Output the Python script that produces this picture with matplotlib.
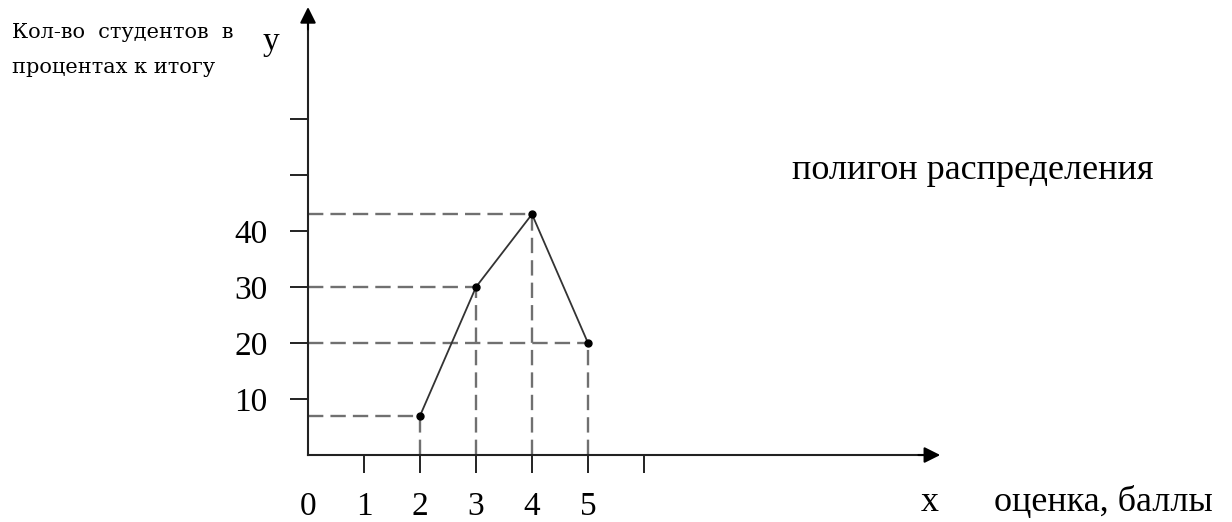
import matplotlib
matplotlib.use("Agg")
import matplotlib.pyplot as plt

# data
grades = [2, 3, 4, 5]
percent = [7, 30, 43, 20]
x_ticks = [0, 1, 2, 3, 4, 5, 6]
x_tick_labels = ["0", "1", "2", "3", "4", "5", ""]
y_ticks = [10, 20, 30, 40, 50, 60]
y_tick_labels = ["10", "20", "30", "40", "", ""]

plt.rcParams['font.family'] = ['Liberation Serif', 'DejaVu Serif']

fig = plt.figure(figsize=(12.32, 5.22), dpi=100)
ax = fig.add_axes([0, 0, 1, 1])
ax.set_xlim(-5.5, 16.5)
ax.set_ylim(-11.96, 81.25)

for s in ['top', 'right']:
    ax.spines[s].set_visible(False)
ax.spines['left'].set_position(('data', 0))
ax.spines['bottom'].set_position(('data', 0))
ax.spines['left'].set_bounds(0, 77)
ax.spines['bottom'].set_bounds(0, 11.0)
for s in ['left', 'bottom']:
    ax.spines[s].set_linewidth(1.5)
    ax.spines[s].set_color('#222222')

ax.annotate('', xy=(0, 80.0), xytext=(0, 76),
            arrowprops=dict(arrowstyle='-|>', color='black', lw=1.5, mutation_scale=24, shrinkA=0, shrinkB=0))
ax.annotate('', xy=(11.29, 0), xytext=(10.9, 0),
            arrowprops=dict(arrowstyle='-|>', color='black', lw=1.5, mutation_scale=24, shrinkA=0, shrinkB=0))

ax.set_xticks(x_ticks)
ax.set_xticklabels(x_tick_labels, fontsize=24)
ax.set_yticks(y_ticks)
ax.set_yticklabels(y_tick_labels, fontsize=24)
ax.tick_params(axis='x', direction='out', length=13, width=1.4, pad=13, colors='#222222', labelcolor='black')
ax.tick_params(axis='y', direction='out', length=13, width=1.4, pad=16, colors='#222222', labelcolor='black')
ax.xaxis.get_major_ticks()[0].tick1line.set_visible(False)

dash = dict(color='#707070', lw=1.7, linestyle=(0, (6.5, 3.0)))
for g, p in zip(grades, percent):
    ax.plot([0, g], [p, p], **dash)
    ax.plot([g, g], [0, p], **dash)

ax.plot(grades, percent, color='#333333', lw=1.3)
ax.plot(grades, percent, 'o', color='black', ms=5)

ax.text(-5.29, 74.5, "Кол-во  студентов  в", fontsize=15, family='DejaVu Serif',
        ha='left', va='baseline')
ax.text(-5.29, 68.2, "процентах к итогу", fontsize=15, family='DejaVu Serif',
        ha='left', va='baseline')
ax.text(-0.82, 72.3, "у", fontsize=24, ha='left', va='baseline')
ax.text(8.64, 49.3, "полигон распределения", fontsize=26, ha='left', va='baseline')
ax.text(10.95, -10.0, "х", fontsize=26, ha='left', va='baseline')
ax.text(12.25, -10.0, "оценка, баллы", fontsize=26, ha='left', va='baseline')

fig.savefig("out.png", dpi=100)
